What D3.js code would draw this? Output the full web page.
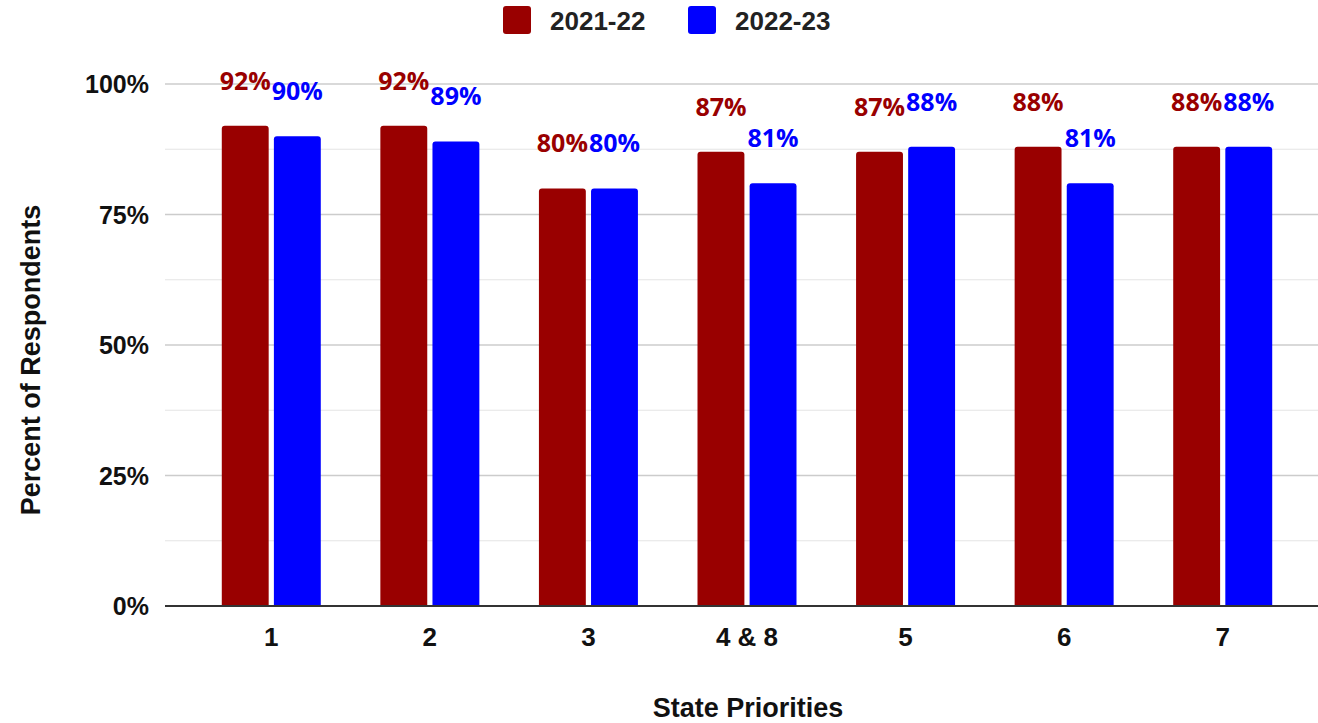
<!DOCTYPE html>
<html>
<head>
<meta charset="utf-8">
<script src="https://cdn.jsdelivr.net/npm/d3@7"></script>
<style>
  body { margin: 0; background: #fff; }
  svg { display: block; }
</style>
</head>
<body>
<svg id="chart"></svg>
<script>
const categories = ["1", "2", "3", "4 & 8", "5", "6", "7"];
const seriesNames = ["2021-22", "2022-23"];
const values2122 = [92, 92, 80, 87, 87, 88, 88];
const values2223 = [90, 89, 80, 81, 88, 81, 88];
const yTicks = [0, 25, 50, 75, 100];
const colors = ["#990000", "#0000ff"];

const width = 1318, height = 723;
const svg = d3.select("#chart").attr("width", width).attr("height", height);

const plotLeft = 165, plotRight = 1318;
const y = d3.scaleLinear().domain([0, 100]).range([606, 84]);
const x = d3.scaleBand().domain(categories).range([192, 1302]).paddingInner(0.35).paddingOuter(0.175);
const xs = d3.scaleBand().domain(seriesNames).range([0, 99]).paddingInner(0.1);
const shift = (x.bandwidth() - 99) / 2;

// gridlines (minor every 12.5)
const gridVals = d3.range(0, 100.1, 12.5);
svg.append("g").selectAll("line")
  .data(gridVals.filter(d => d > 0))
  .join("line")
  .attr("x1", plotLeft).attr("x2", plotRight)
  .attr("y1", d => y(d)).attr("y2", d => y(d))
  .attr("stroke", d => d % 25 === 0 ? "#cccccc" : "#e4e4e4")
  .attr("stroke-width", d => d % 25 === 0 ? 1.6 : 1.2);

// y tick labels
svg.append("g").selectAll("text")
  .data(yTicks)
  .join("text")
  .attr("x", 149).attr("y", d => y(d))
  .attr("dy", "0.36em")
  .attr("text-anchor", "end")
  .style("font", "bold 25px 'Liberation Sans', Arial, sans-serif")
  .attr("fill", "#111")
  .text(d => d + "%");

// data rows
const rows = categories.map((c, i) => ({ cat: c, vals: [values2122[i], values2223[i]] }));

function topRoundedBar(x0, w, yTop, yBase, r) {
  return `M${x0},${yBase}V${yTop + r}Q${x0},${yTop} ${x0 + r},${yTop}H${x0 + w - r}Q${x0 + w},${yTop} ${x0 + w},${yTop + r}V${yBase}Z`;
}

const groups = svg.append("g").selectAll("g")
  .data(rows)
  .join("g")
  .attr("transform", d => `translate(${x(d.cat) + shift},0)`);

groups.selectAll("path")
  .data(d => d.vals.map((v, k) => ({ v, k })))
  .join("path")
  .attr("d", d => topRoundedBar(xs(seriesNames[d.k]), xs.bandwidth(), y(d.v), y(0), 3))
  .attr("fill", d => colors[d.k]);

groups.selectAll("text")
  .data(d => d.vals.map((v, k) => ({ v, k })))
  .join("text")
  .attr("x", d => xs(seriesNames[d.k]) + xs.bandwidth() / 2)
  .attr("y", d => y(d.v) - 36)
  .attr("text-anchor", "middle")
  .style("font", "bold 25px 'Open Sans', 'Noto Sans', sans-serif")
  .attr("fill", d => colors[d.k])
  .text(d => d.v + "%");

// x axis baseline
svg.append("line")
  .attr("x1", plotLeft).attr("x2", plotRight)
  .attr("y1", y(0)).attr("y2", y(0))
  .attr("stroke", "#333").attr("stroke-width", 2);

// x tick labels
svg.append("g").selectAll("text")
  .data(categories)
  .join("text")
  .attr("x", d => x(d) + x.bandwidth() / 2)
  .attr("y", 637)
  .attr("dy", "0.36em")
  .attr("text-anchor", "middle")
  .style("font", "bold 26px 'Liberation Sans', Arial, sans-serif")
  .attr("fill", "#111")
  .text(d => d);

// axis titles
svg.append("text")
  .attr("x", 748).attr("y", 707).attr("dy", "0.36em")
  .attr("text-anchor", "middle")
  .style("font", "bold 27px 'Liberation Sans', Arial, sans-serif")
  .attr("fill", "#111")
  .text("State Priorities");

svg.append("text")
  .attr("transform", "translate(30,360) rotate(-90)")
  .attr("dy", "0.36em")
  .attr("text-anchor", "middle")
  .style("font", "bold 27px 'Liberation Sans', Arial, sans-serif")
  .attr("fill", "#111")
  .text("Percent of Respondents");

// legend
const legendX = [503, 688];
const legend = svg.append("g").selectAll("g")
  .data(seriesNames)
  .join("g")
  .attr("transform", (d, i) => `translate(${legendX[i]},6)`);
legend.append("rect")
  .attr("width", 28).attr("height", 28).attr("rx", 3)
  .attr("fill", (d, i) => colors[i]);
legend.append("text")
  .attr("x", 47).attr("y", 15).attr("dy", "0.36em")
  .style("font", "bold 26px 'Liberation Sans', Arial, sans-serif")
  .attr("fill", "#222")
  .text(d => d);
</script>
</body>
</html>
